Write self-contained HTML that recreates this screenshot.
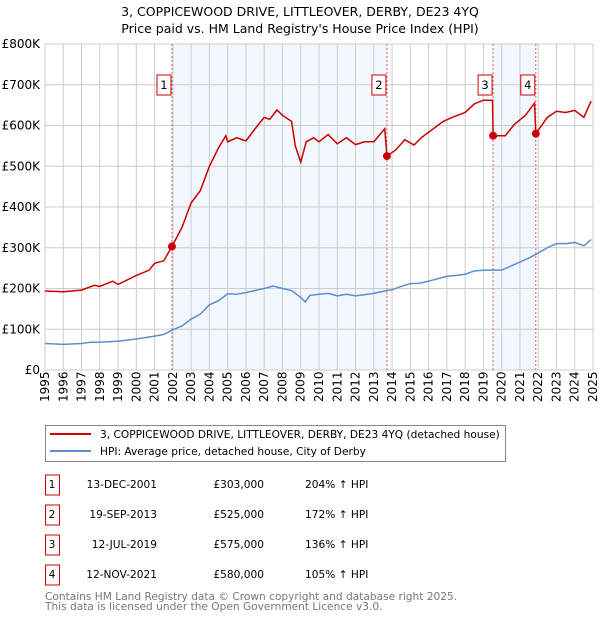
<!DOCTYPE html>
<html><head><meta charset="utf-8"><style>
body{margin:0;background:#fff;font-family:"DejaVu Sans","Liberation Sans",sans-serif;}
svg text{font-family:"DejaVu Sans","Liberation Sans",sans-serif;}
</style></head><body>
<svg id="c" width="600" height="620" viewBox="0 0 600 620" xmlns="http://www.w3.org/2000/svg">
<text x="300" y="16" text-anchor="middle" font-size="12.5">3, COPPICEWOOD DRIVE, LITTLEOVER, DERBY, DE23 4YQ</text>
<text x="300" y="33" text-anchor="middle" font-size="12.5">Price paid vs. HM Land Registry's House Price Index (HPI)</text>
<g id="plot"></g>
<rect x="45.5" y="425.5" width="460" height="36" fill="#fff" stroke="#888"/>
<line x1="50" y1="434" x2="91" y2="434" stroke="#cc0000" stroke-width="2"/>
<text x="100" y="438" font-size="10.6">3, COPPICEWOOD DRIVE, LITTLEOVER, DERBY, DE23 4YQ (detached house)</text>
<line x1="50" y1="451" x2="91" y2="451" stroke="#5b8fd0" stroke-width="2"/>
<text x="100" y="455" font-size="10.6">HPI: Average price, detached house, City of Derby</text>
<g id="tbl" font-size="10.6"></g>
<text x="45" y="600" font-size="10.6" fill="#777">Contains HM Land Registry data © Crown copyright and database right 2025.</text>
<text x="45" y="610" font-size="10.6" fill="#777">This data is licensed under the Open Government Licence v3.0.</text>
</svg>
<script>
const hpiYears=[1995,1996,1997,1997.5,1998,1999,2000,2001,2001.5,2002,2002.5,2003,2003.5,2004,2004.5,2005,2005.5,2006,2006.5,2007,2007.5,2008,2008.5,2009,2009.25,2009.5,2010,2010.5,2011,2011.5,2012,2012.5,2013,2013.5,2014,2014.5,2015,2015.5,2016,2016.5,2017,2017.5,2018,2018.5,2019,2019.5,2020,2020.5,2021,2021.5,2022,2022.5,2023,2023.5,2024,2024.5,2024.9];
const hpiValues=[65,63,65,68,68,71,76,83,87,99,108,125,137,160,170,187,186,190,195,200,206,200,195,178,167,183,186,188,182,186,182,185,188,193,197,205,212,213,218,224,230,232,235,243,245,245,245,255,265,275,287,300,310,310,313,305,320];
const propYears=[1995,1996,1997,1997.7,1998,1998.7,1999,2000,2000.7,2001,2001.5,2001.95,2002.5,2003,2003.5,2004,2004.5,2004.9,2005,2005.5,2006,2006.5,2007,2007.3,2007.7,2008,2008.5,2008.7,2009,2009.3,2009.7,2010,2010.5,2011,2011.5,2012,2012.5,2013,2013.6,2013.72,2014.2,2014.7,2015.2,2015.6,2016.2,2016.8,2017.3,2018,2018.5,2019,2019.5,2019.53,2020.2,2020.7,2021.3,2021.8,2021.87,2022.5,2023,2023.5,2024,2024.5,2024.9];
const propValues=[194,192,196,208,205,218,210,232,245,262,268,303,350,410,440,500,545,575,560,570,562,592,620,615,638,625,610,550,510,560,570,560,578,555,570,553,560,560,592,525,540,565,552,570,590,610,620,632,653,662,662,575,575,603,625,655,580,620,635,632,637,620,660];
const saleLabels=["1","2","3","4"];
const saleYears=[2001.95,2013.72,2019.53,2021.87];
const saleValues=[303,525,575,580];
const saleDates=["13-DEC-2001","19-SEP-2013","12-JUL-2019","12-NOV-2021"];
const salePrices=["£303,000","£525,000","£575,000","£580,000"];
const saleHpi=["204% ↑ HPI","172% ↑ HPI","136% ↑ HPI","105% ↑ HPI"];
const yTicks=[0,100,200,300,400,500,600,700,800];
const yTickLabels=["£0","£100K","£200K","£300K","£400K","£500K","£600K","£700K","£800K"];
const xTicks=[1995,1996,1997,1998,1999,2000,2001,2002,2003,2004,2005,2006,2007,2008,2009,2010,2011,2012,2013,2014,2015,2016,2017,2018,2019,2020,2021,2022,2023,2024,2025];

const NS="http://www.w3.org/2000/svg";
const X0=45,X1=593,Y0=370,Y1=44;
const x=v=>X0+(v-1995)/30*(X1-X0);
const y=v=>Y0-v/800*(Y0-Y1);
const g=document.getElementById('plot');
function mk(t,a,p){const e=document.createElementNS(NS,t);for(const k in a)e.setAttribute(k,a[k]);(p||g).appendChild(e);return e;}
for(const [a,b,n] of [[0,1,'shade-1-2'],[2,3,'shade-3-4']]){
 const r=mk('rect',{x:x(saleYears[a]),y:Y1,width:x(saleYears[b])-x(saleYears[a]),height:Y0-Y1,fill:'#eef3fc',opacity:0.75});
 
 
}
yTicks.forEach((t,i)=>{
 const l=mk('line',{x1:X0,x2:X1,y1:y(t),y2:y(t),stroke:'#ccc'});
 
 
 const tx=mk('text',{x:X0-5,y:y(t)+4,'text-anchor':'end','font-size':12});
 tx.textContent=yTickLabels[i];
 
 
});
xTicks.forEach(t=>{
 const l=mk('line',{x1:x(t),x2:x(t),y1:Y1,y2:Y0,stroke:'#ccc'});
 
 
 const tx=mk('text',{x:0,y:0,'font-size':12,transform:`translate(${x(t)+4},${Y0+32}) rotate(-90)`});
 tx.textContent=t;
 
 
});
const bd=mk('rect',{x:X0,y:Y1,width:X1-X0,height:Y0-Y1,fill:'none',stroke:'#ccc'});


saleYears.forEach((s,i)=>{
 const l=mk('line',{x1:x(s),x2:x(s),y1:Y1,y2:Y0,stroke:'#e06060','stroke-dasharray':'2,2'});
 
 
 const bx=mk('rect',{x:x(s)-15,y:75,width:14,height:20,fill:'#fff',stroke:'#cc0000'});
 
 
 const tx=mk('text',{x:x(s)-8,y:89,'text-anchor':'middle','font-size':11.5});
 tx.textContent=saleLabels[i];
 
 
});
const hp=mk('polyline',{points:hpiYears.map((v,i)=>x(v)+','+y(hpiValues[i])).join(' '),fill:'none',stroke:'#5b8fd0','stroke-width':1.5});


const pp=mk('polyline',{points:propYears.map((v,i)=>x(v)+','+y(propValues[i])).join(' '),fill:'none',stroke:'#cc0000','stroke-width':1.5});


saleYears.forEach((s,i)=>{
 const c=mk('circle',{cx:x(s),cy:y(saleValues[i]),r:4,fill:'#cc0000'});
 
 
});
const tb=document.getElementById('tbl');
saleLabels.forEach((s,i)=>{
 const yy=487+i*30;
 const r=mk('rect',{x:45.5,y:yy-12,width:14,height:20,fill:'#fff',stroke:'#cc0000'},tb);
 
 
 const cells=[[52,s,'middle'],[157,saleDates[i],'end'],[264,salePrices[i],'end'],[305,saleHpi[i],'start']];
 cells.forEach(([cx,t,a])=>{
  const tx=mk('text',{x:cx,y:yy+1,'text-anchor':a},tb);
  tx.textContent=t;
  
  
 });
});
</script>
</body></html>
